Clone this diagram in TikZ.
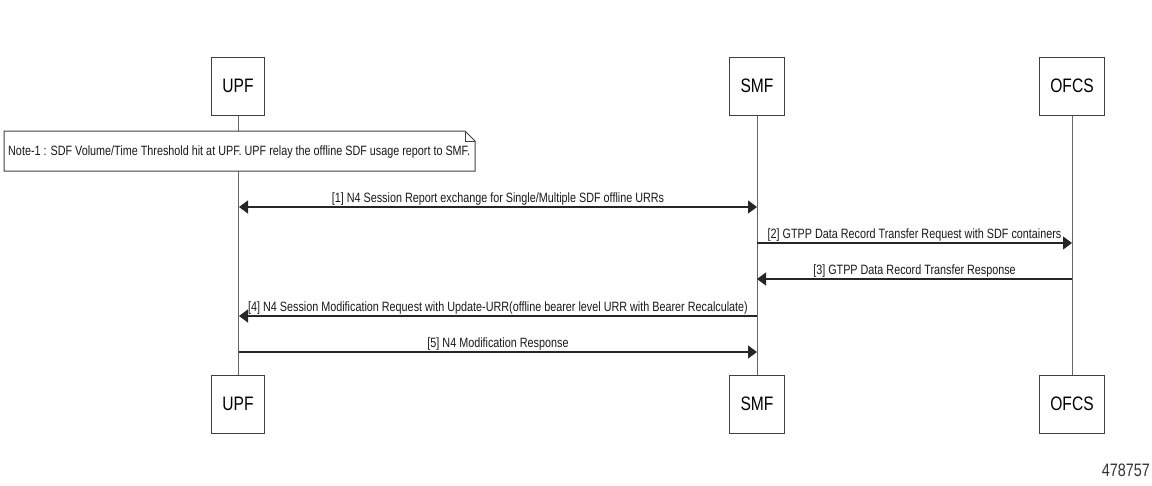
\documentclass[tikz,border=0pt]{standalone}
\usepackage{fontspec}
\setmainfont{Liberation Sans}[FakeStretch=0.8]
\usetikzlibrary{arrows.meta,shapes.misc}
\begin{document}
\begin{tikzpicture}[x=1pt,y=-1pt,
  actor/.style={draw=black!75,line width=1pt,fill=white,minimum width=53pt,minimum height=58pt,inner sep=0pt,font=\fontsize{19.5}{19.5}\selectfont},
  life/.style={draw=black!60,line width=0.9pt},
  msg/.style={draw=black!85,line width=1.1pt,-{Triangle[length=9pt,width=13pt]}},
  bimsg/.style={draw=black!85,line width=1.1pt,{Triangle[length=9pt,width=13pt]}-{Triangle[length=9pt,width=13pt]}},
  lbl/.style={font=\fontsize{13.5}{13.5}\selectfont,inner sep=1.5pt,above,text=black!90}]
\useasboundingbox (0,0) rectangle (1152,485);
% actors
\node[actor] (upfT) at (238,86) {UPF};
\node[actor,minimum width=55pt] (smfT) at (757,86) {SMF};
\node[actor,minimum width=65pt] (ofcsT) at (1072,86) {OFCS};
\node[actor] (upfB) at (238,404) {UPF};
\node[actor,minimum width=55pt] (smfB) at (757,404) {SMF};
\node[actor,minimum width=65pt] (ofcsB) at (1072,404) {OFCS};
% lifelines
\draw[life] (upfT.south) -- (upfB.north);
\draw[life] (smfT.south) -- (smfB.north);
\draw[life] (ofcsT.south) -- (ofcsB.north);
% note
\draw[draw=black!75,line width=1pt,fill=white] (4,131) -- (465,131) -- (475,141) -- (475,171) -- (4,171) -- cycle;
\draw[draw=black!75,line width=0.7pt] (465,131) -- (465,141) -- (475,141);
\node[font=\fontsize{13.5}{13.5}\selectfont,anchor=west,inner sep=0pt,text=black!90] (note) at (8,152) {Note-1 : SDF Volume/Time Threshold hit at UPF. UPF relay the offline SDF usage report to SMF.};
% message coordinates
\coordinate (u1) at (239,207); \coordinate (s1) at (757,207);
\coordinate (s2) at (757,243); \coordinate (o2) at (1072,243);
\coordinate (o3) at (1072,279); \coordinate (s3) at (757,279);
\coordinate (s4) at (757,316); \coordinate (u4) at (239,316);
\coordinate (u5) at (239,352); \coordinate (s5) at (757,352);
\draw[bimsg] (u1) -- node[lbl]{[1] N4 Session Report exchange for Single/Multiple SDF offline URRs} (s1);
\draw[msg] (s2) -- node[lbl]{[2] GTPP Data Record Transfer Request with SDF containers} (o2);
\draw[msg] (o3) -- node[lbl]{[3] GTPP Data Record Transfer Response} (s3);
\draw[msg] (s4) -- node[lbl]{[4] N4 Session Modification Request with Update-URR(offline bearer level URR with Bearer Recalculate)} (u4);
\draw[msg] (u5) -- node[lbl]{[5] N4 Modification Response} (s5);
\node[font=\fontsize{18}{18}\selectfont,anchor=east,inner sep=0pt,text=black!80] (fig) at (1150,470) {478757};
\end{tikzpicture}
\end{document}
